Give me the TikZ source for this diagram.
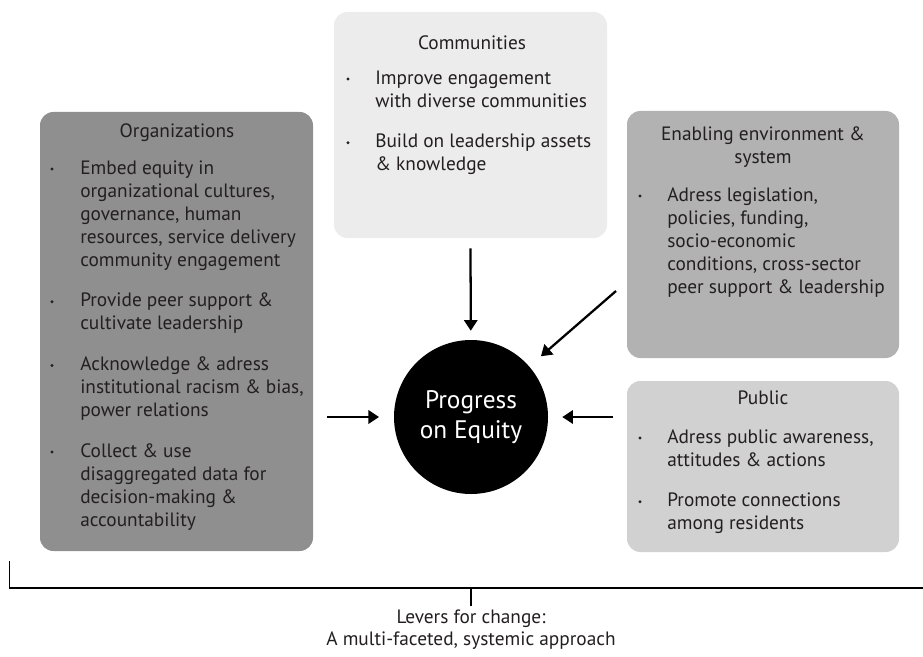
\documentclass[tikz,border=0pt]{standalone}
\usepackage{fontspec}
\setmainfont{PT Sans}
\usepackage{xcolor}
\usepackage{tikz}
\usetikzlibrary{arrows.meta}

\definecolor{orgfill}{RGB}{143,143,143}
\definecolor{commfill}{RGB}{236,236,236}
\definecolor{enabfill}{RGB}{178,178,178}
\definecolor{pubfill}{RGB}{209,209,209}
\definecolor{inktext}{RGB}{35,31,32}

\tikzset{
  lever/.style={rounded corners=10pt, draw=none, inner sep=0pt},
  headtxt/.style={inner sep=0pt, text=inktext, align=center, font=\fontsize{14.5}{17.25}\selectfont},
  itemtxt/.style={inner sep=0pt, anchor=north west, text=inktext, align=left, font=\fontsize{14.5}{17.25}\selectfont},
  push/.style={line width=1.7pt, -{Triangle[length=8pt,width=10pt]}},
}

\begin{document}
\begin{tikzpicture}[x=0.75pt,y=0.75pt,yscale=-1]
        \useasboundingbox (0,0) rectangle (923,656);

        %Shape: Rounded Rect [id:organizations]
        \node (org) [lever, fill=orgfill, minimum width=204.75pt, minimum height=329.25pt] at (176.5,331.5) {};
        %Shape: Rounded Rect [id:communities]
        \node (comm) [lever, fill=commfill, minimum width=204.75pt, minimum height=169.5pt] at (470.5,125) {};
        %Shape: Rounded Rect [id:enabling]
        \node (enab) [lever, fill=enabfill, minimum width=204pt, minimum height=185.25pt] at (763,234.5) {};
        %Shape: Rounded Rect [id:public]
        \node (pub) [lever, fill=pubfill, minimum width=204pt, minimum height=128.25pt] at (763,466.5) {};

        %Shape: Circle [id:equity]
        \node (equity) [circle, fill=black, inner sep=0pt, minimum size=115.5pt, text=white, align=center, font=\fontsize{19}{23}\selectfont] at (471,417) {Progress\\on Equity};

        %Organizations text
        \node (orgtitle) [headtxt] at (177,133) {Organizations};
        \node (orgA) [itemtxt] at (80,157.9) {\strut Embed equity in\\organizational cultures,\\governance, human\\resources, service delivery\\community engagement};
        \node (orgB) [itemtxt] at (80,290.6) {\strut Provide peer support \&\\cultivate leadership};
        \node (orgC) [itemtxt] at (80,354.3) {\strut Acknowledge \& adress\\institutional racism \& bias,\\power relations};
        \node (orgD) [itemtxt] at (80,440.9) {\strut Collect \& use\\disaggregated data for\\decision-making \&\\accountability};
        \fill[inktext] (52,169) circle (1.6) (52,301.7) circle (1.6) (52,365.4) circle (1.6) (52,452) circle (1.6);

        %Communities text
        \node (commtitle) [headtxt] at (472,43) {Communities};
        \node (commA) [itemtxt] at (375,67.9) {\strut Improve engagement\\with diverse communities};
        \node (commB) [itemtxt] at (375,131.6) {\strut Build on leadership assets\\\& knowledge};
        \fill[inktext] (348,79) circle (1.6) (348,142.7) circle (1.6);

        %Enabling environment text
        \node (enabtitle) [headtxt] at (763,147) {Enabling environment \&\\system};
        \node (enabA) [itemtxt] at (667,184.9) {\strut Adress legislation,\\policies, funding,\\socio-economic\\conditions, cross-sector\\peer support \& leadership};
        \fill[inktext] (640,196) circle (1.6);

        %Public text
        \node (pubtitle) [headtxt] at (763,398) {Public};
        \node (pubA) [itemtxt] at (667,426.9) {\strut Adress public awareness,\\attitudes \& actions};
        \node (pubB) [itemtxt] at (667,490.6) {\strut Promote connections\\among residents};
        \fill[inktext] (640,438) circle (1.6) (640,501.7) circle (1.6);

        %Arrows into the circle
        \coordinate (enabtail) at (616,291);
        \draw[push, shorten <=7.5pt, shorten >=6.75pt] (comm.south) -- (equity);
        \draw[push, shorten <=10.5pt, shorten >=11pt] (org.east |- equity) -- (equity);
        \draw[push, shorten <=10.5pt, shorten >=10.5pt] (pub.west |- equity) -- (equity);
        \draw[push, shorten >=11.5pt] (enabtail) -- (equity);

        %Bracket and caption
        \node (levers) [headtxt] at (471,619) {Levers for change:};
        \node (approach) [headtxt] at (471,641) {A multi-faceted, systemic approach};
        \coordinate (brace) at (471,588);
        \draw[line width=1.1pt] (9.5,561) -- (9.5,588) -- (923,588);
        \draw[line width=1.1pt, shorten >=3pt] (brace) -- (levers);
\end{tikzpicture}
\end{document}
